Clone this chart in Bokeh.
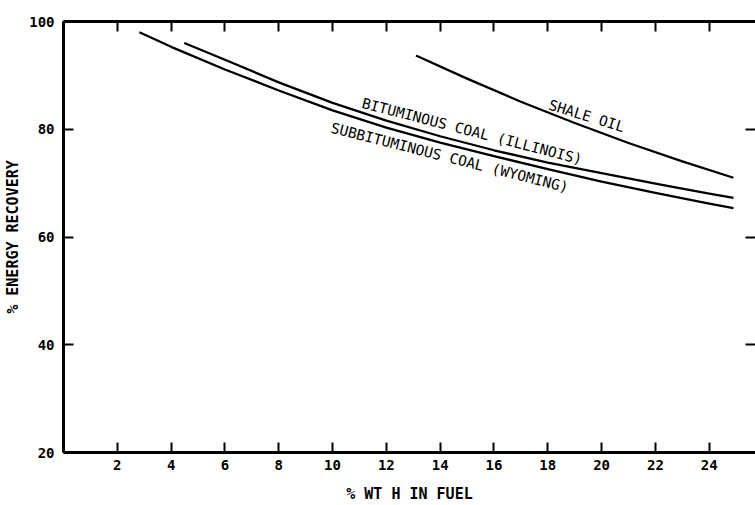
from bokeh.plotting import figure
from bokeh.models import Range1d, LinearAxis, FixedTicker
from bokeh.core.properties import value
from bokeh.embed import file_html
from bokeh.resources import INLINE

# data
x_ticks = [2, 4, 6, 8, 10, 12, 14, 16, 18, 20, 22, 24]
y_ticks = [20, 40, 60, 80, 100]

subbit_x = [2.82, 4, 6, 8, 10, 12, 14, 16, 18, 20, 22, 24, 24.9]
subbit_y = [98.0, 95.3, 91.1, 87.2, 83.5, 80.3, 77.5, 75.0, 72.6, 70.3, 68.2, 66.2, 65.35]

bitum_x = [4.49, 6, 8, 10, 12, 14, 16, 18, 20, 22, 24, 24.9]
bitum_y = [96.0, 92.9, 88.7, 84.9, 81.6, 78.7, 76.1, 73.8, 71.85, 69.9, 68.05, 67.25]

shale_x = [13.1, 15, 17, 19, 21, 23, 24.9]
shale_y = [93.7, 89.4, 85.1, 81.15, 77.45, 74.05, 71.0]

label_text = ["BITUMINOUS COAL (ILLINOIS)", "SUBBITUMINOUS COAL (WYOMING)", "SHALE OIL"]
label_x = [11.1, 9.95, 18.05]
label_y = [84.9, 80.3, 84.6]
label_angle = [-14.5, -14.2, -17.0]

FONT = "DejaVu Sans Mono"

p = figure(width=755, height=505, output_backend="svg", toolbar_location=None,
           x_range=Range1d(0, 25.72), y_range=Range1d(20, 100),
           x_axis_type=None, y_axis_type=None,
           min_border_left=63, min_border_right=0, min_border_top=21, min_border_bottom=52)
p.outline_line_color = None
p.xgrid.visible = False
p.ygrid.visible = False
p.background_fill_color = "white"
p.border_fill_color = "white"

def style_axis(ax, show_labels):
    ax.axis_line_width = 3
    ax.axis_line_color = "black"
    ax.major_tick_in = 10
    ax.major_tick_out = 0
    ax.major_tick_line_width = 2
    ax.major_tick_line_color = "black"
    ax.minor_tick_line_color = None
    ax.major_label_text_font = FONT
    ax.major_label_text_color = "black"
    if show_labels:
        ax.major_label_text_font_size = "14px"
        ax.major_label_text_font_style = "bold"
    else:
        ax.major_label_text_font_size = "1px"
        ax.major_label_text_alpha = 0
        ax.major_label_standoff = 0

xb = LinearAxis(ticker=FixedTicker(ticks=x_ticks), axis_label="% WT H IN FUEL")
style_axis(xb, True)
xb.major_label_standoff = 7
xb.axis_label_standoff = 12
xb.axis_label_text_font = FONT
xb.axis_label_text_font_size = "15px"
xb.axis_label_text_font_style = "bold"
xb.axis_label_text_color = "black"
p.add_layout(xb, "below")

xt = LinearAxis(ticker=FixedTicker(ticks=x_ticks))
style_axis(xt, False)
p.add_layout(xt, "above")

yl = LinearAxis(ticker=FixedTicker(ticks=y_ticks), axis_label="% ENERGY RECOVERY")
style_axis(yl, True)
yl.major_label_standoff = 9
yl.axis_label_standoff = 4
yl.axis_label_text_font = FONT
yl.axis_label_text_font_size = "15px"
yl.axis_label_text_font_style = "bold"
yl.axis_label_text_color = "black"
p.add_layout(yl, "left")

yr = LinearAxis(ticker=FixedTicker(ticks=y_ticks))
style_axis(yr, False)
yr.axis_line_color = None
p.add_layout(yr, "right")

for xs, ys in [(subbit_x, subbit_y), (bitum_x, bitum_y), (shale_x, shale_y)]:
    p.line(xs, ys, line_color="black", line_width=2.3, line_join="round")

p.text(x=label_x, y=label_y, text=label_text, angle=label_angle, angle_units="deg",
       text_font=value(FONT), text_font_size="14.5px", text_color="black",
       text_align="left", text_baseline="middle")

open("out.html", "w").write(file_html(p, INLINE))
